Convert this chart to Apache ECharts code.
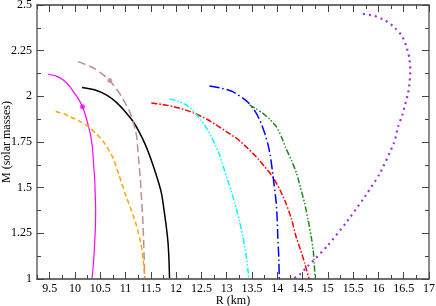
<!DOCTYPE html>
<html><head><meta charset="utf-8">
<script src="https://cdn.jsdelivr.net/npm/echarts@6/dist/echarts.min.js"></script>
<style>html,body{margin:0;padding:0;background:#fff}#c{width:436px;height:306px}</style>
</head><body><div id="c"></div>
<script>
const xTickLabels = [9.5,10,10.5,11,11.5,12,12.5,13,13.5,14,14.5,15,15.5,16,16.5,17];
const xMinorTicks = [9.25,9.5,9.75,10,10.25,10.5,10.75,11,11.25,11.5,11.75,12,12.25,12.5,12.75,13,13.25,13.5,13.75,14,14.25,14.5,14.75,15,15.25,15.5,15.75,16,16.25,16.5,16.75,17];
const yTickLabels = [1,1.25,1.5,1.75,2,2.25,2.5];

const magentaSolid = [[9.47,2.121],[9.62,2.112],[9.77,2.09],[9.88,2.06],[9.97,2.026],[10.07,1.985],[10.15,1.943],[10.21,1.895],[10.26,1.844],[10.30,1.80],[10.33,1.753],[10.355,1.69],[10.37,1.625],[10.39,1.55],[10.40,1.47],[10.41,1.38],[10.405,1.29],[10.39,1.197],[10.37,1.10],[10.34,1.005]];
const blackSolid = [[10.14,2.048],[10.40,2.035],[10.62,2.008],[10.82,1.967],[11.02,1.908],[11.16,1.858],[11.28,1.80],[11.40,1.73],[11.51,1.65],[11.63,1.55],[11.71,1.47],[11.75,1.40],[11.80,1.30],[11.84,1.20],[11.86,1.10],[11.87,1.005]];
const brownDashed = [[10.06,2.19],[10.25,2.17],[10.40,2.15],[10.55,2.12],[10.69,2.086],[10.82,2.04],[10.92,2.0],[11.00,1.96],[11.08,1.917],[11.15,1.86],[11.19,1.82],[11.22,1.78],[11.24,1.72],[11.26,1.653],[11.29,1.56],[11.31,1.47],[11.34,1.33],[11.36,1.197],[11.37,1.10],[11.38,1.005]];
const orangeDashed = [[9.62,1.917],[9.80,1.902],[9.97,1.88],[10.12,1.86],[10.26,1.835],[10.42,1.795],[10.56,1.753],[10.67,1.705],[10.77,1.653],[10.875,1.565],[10.99,1.47],[11.11,1.38],[11.22,1.29],[11.30,1.20],[11.35,1.106],[11.38,1.005]];
const redDashDot = [[11.51,1.963],[11.72,1.956],[11.94,1.944],[12.18,1.926],[12.40,1.903],[12.60,1.876],[12.79,1.844],[13.0,1.806],[13.22,1.765],[13.40,1.72],[13.58,1.67],[13.75,1.615],[13.91,1.56],[14.05,1.49],[14.17,1.416],[14.28,1.33],[14.37,1.233],[14.46,1.16],[14.54,1.088],[14.63,1.0]];
const cyanDashDotDot = [[11.87,1.986],[12.05,1.972],[12.20,1.953],[12.30,1.93],[12.40,1.90],[12.50,1.866],[12.60,1.826],[12.70,1.778],[12.79,1.725],[12.87,1.67],[12.94,1.61],[13.05,1.515],[13.16,1.416],[13.25,1.32],[13.32,1.233],[13.38,1.14],[13.42,1.05],[13.44,1.0]];
const blueDashDot = [[12.66,2.057],[12.89,2.045],[13.12,2.026],[13.32,1.99],[13.43,1.965],[13.52,1.935],[13.61,1.895],[13.68,1.853],[13.75,1.80],[13.81,1.744],[13.86,1.68],[13.90,1.60],[13.94,1.51],[13.98,1.416],[14.00,1.32],[14.01,1.233],[14.03,1.12],[14.04,1.0]];
const greenDashDotDot = [[13.45,1.953],[13.58,1.932],[13.71,1.908],[13.85,1.875],[13.98,1.835],[14.08,1.78],[14.17,1.717],[14.28,1.65],[14.38,1.58],[14.46,1.50],[14.54,1.416],[14.61,1.325],[14.67,1.233],[14.71,1.16],[14.73,1.088],[14.75,1.0]];
const purpleDotted = [[14.34,1.005],[14.44,1.024],[14.60,1.069],[15.0,1.184],[15.36,1.308],[15.70,1.438],[16.02,1.574],[16.31,1.747],[16.39,1.835],[16.47,1.895],[16.53,1.957],[16.59,2.021],[16.62,2.085],[16.63,2.149],[16.61,2.212],[16.55,2.275],[16.46,2.333],[16.30,2.382],[16.12,2.418],[15.92,2.44],[15.69,2.451]];
const markerPoints = [[10.15,1.943,'#ff00ff'],[10.69,2.086,'#bc8f8f']];

const font = 'Liberation Serif';
const axisCol = '#666';
function xAx(pos, showLabels, ticks, len, name){
  return {type:'value', position:pos, min:9.25, max:17, interval:0.25,
    name: name||'', nameLocation:'middle', nameGap:16, nameMoveOverlap:false,
    nameTextStyle:{fontFamily:font,fontSize:12,color:'#000'},
    axisLine:{show:true,onZero:false,lineStyle:{color:axisCol,width:1.5}},
    axisTick:{show:true,inside:true,length:len,customValues:ticks,lineStyle:{color:'#444',width:1}},
    axisLabel:{show:showLabels,customValues:xTickLabels,margin:4,fontFamily:font,fontSize:12,color:'#000'},
    splitLine:{show:false}};
}
function yAx(pos, showLabels, name){
  return {type:'value', position:pos, min:1, max:2.5, interval:0.25,
    name: name||'', nameLocation:'middle', nameGap:24, nameRotate:90, nameMoveOverlap:false,
    nameTextStyle:{fontFamily:font,fontSize:12,color:'#000'},
    axisLine:{show:true,onZero:false,lineStyle:{color:axisCol,width:1.5}},
    axisTick:{show:true,inside:true,length:7,lineStyle:{color:'#444',width:1}},
    minorTick:{show:true,splitNumber:2,length:4,lineStyle:{color:'#444',width:1}},
    axisLabel:{show:showLabels,margin:5,fontFamily:font,fontSize:12,color:'#000'},
    splitLine:{show:false},minorSplitLine:{show:false}};
}
function line(data,color,type,width){
  return {type:'line',data:data,xAxisIndex:0,yAxisIndex:0,showSymbol:false,smooth:0.2,
    lineStyle:{color:color,width:width||1.5,type:type,cap:'butt'},z:3};
}
const chart = echarts.init(document.getElementById('c'),null,{renderer:'canvas'});
chart.setOption({
  animation:false,
  grid:{left:37,right:7,top:5,bottom:27,containLabel:false,outerBoundsMode:'none'},
  xAxis:[xAx('bottom',true,xTickLabels,7,'R (km)'), xAx('bottom',false,xMinorTicks,4), xAx('top',false,xTickLabels,7), xAx('top',false,xMinorTicks,4)],
  yAxis:[yAx('left',true,'M (solar masses)'), yAx('right',false)],
  series:[
    line(magentaSolid,'#ff00ff','solid',1.2),
    line(blackSolid,'#000000','solid',1.5),
    line(brownDashed,'#bc8f8f',[8,4],1.5),
    line(orangeDashed,'#ffa500',[5,3],1.5),
    line(redDashDot,'#ff0000',[6,2,1.5,2],1.5),
    line(cyanDashDotDot,'#00ffff',[6,2,1.5,2,1.5,2],1.5),
    line(blueDashDot,'#0000ff',[10,3,1.5,3],1.5),
    line(greenDashDotDot,'#1a8c1a',[6,2,1.5,2,1.5,2],1.5),
    line(purpleDotted,'#9b30e6',[2,4],2.2),
    {type:'scatter',xAxisIndex:0,yAxisIndex:0,symbol:'circle',symbolSize:5,z:4,
     data:markerPoints.map(p=>({value:[p[0],p[1]],itemStyle:{color:p[2]}}))}
  ]
});
</script></body></html>
